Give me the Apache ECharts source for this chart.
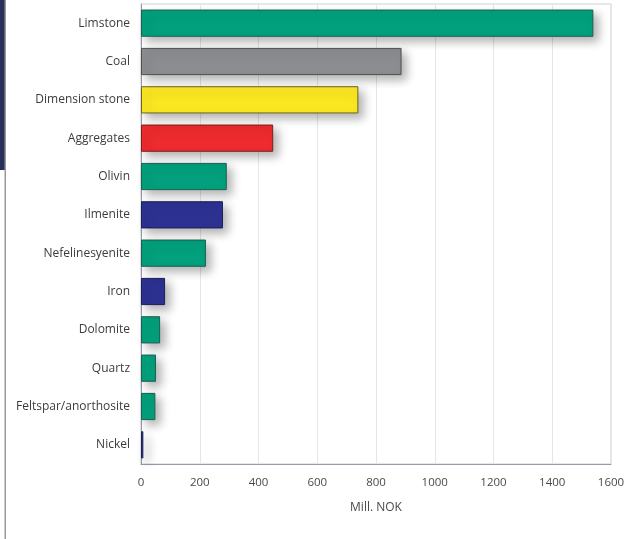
<!DOCTYPE html>
<html>
<head>
<meta charset="utf-8">
<script src="https://cdn.jsdelivr.net/npm/echarts@6/dist/echarts.min.js"></script>
<style>html,body{margin:0;padding:0;background:#fff}#c{width:636px;height:539px}</style>
</head>
<body>
<div id="c"></div>
<script>
const categories = ['Limstone','Coal','Dimension stone','Aggregates','Olivin','Ilmenite','Nefelinesyenite','Iron','Dolomite','Quartz','Feltspar/anorthosite','Nickel'];
const values = [1540, 887, 740, 450, 292, 279, 221, 82, 65, 51, 49, 8];
const fillColors = ['#02a07c','#8b8d90','#fbe622','#ee2b2e','#02a07c','#2d3192','#02a07c','#2d3192','#02a07c','#02a07c','#02a07c','#2d3192'];
const borderColors = ['#1d5e50','#4d4f52','#6b6420','#7a2020','#1d5e50','#1c1f5a','#1d5e50','#1c1f5a','#1d5e50','#1d5e50','#1d5e50','#1c1f5a'];
const xTicks = [0,200,400,600,800,1000,1200,1400,1600];

const chart = echarts.init(document.getElementById('c'));
const cats = categories.slice().reverse();
const data = values.map((v,i)=>({value:v,itemStyle:{color:fillColors[i],borderColor:borderColors[i]}})).reverse();
chart.setOption({
  animation:false,
  backgroundColor:'#ffffff',
  graphic:[
    {type:'rect',shape:{x:0,y:0,width:5,height:170},style:{fill:'#26305a'}},
    {type:'rect',shape:{x:4.5,y:0,width:1.5,height:539},style:{fill:'#9a9a9a'}}
  ],
  grid:{left:141,right:25,top:4,bottom:75,show:true,borderColor:'#cfcfcf',borderWidth:1,backgroundColor:'transparent'},
  xAxis:{type:'value',min:0,max:1600,interval:200,
    name:'Mill. NOK',nameLocation:'middle',nameGap:38,
    nameTextStyle:{fontFamily:'Open Sans',fontSize:12,color:'#4a4a4a'},
    axisLine:{show:true,lineStyle:{color:'#9a9aa8',width:1}},
    axisTick:{show:false},
    axisLabel:{margin:13,fontFamily:'Open Sans',fontSize:11.5,color:'#4a4a4a',formatter:v=>xTicks.includes(v)?String(v):''},
    splitLine:{show:true,lineStyle:{color:'#e6e6e6',width:1}}
  },
  yAxis:{type:'category',data:cats,
    axisLine:{show:true,lineStyle:{color:'#9a9aa8',width:1}},
    axisTick:{show:false},
    axisLabel:{margin:11,fontFamily:'Open Sans',fontSize:12,color:'#3c3c3c'},
    splitLine:{show:false}
  },
  series:[{type:'bar',data:data,barCategoryGap:'29%',
    itemStyle:{borderWidth:1,shadowBlur:10,shadowOffsetX:5,shadowOffsetY:5,shadowColor:'rgba(0,0,0,0.3)'}
  }]
});
</script>
</body>
</html>
